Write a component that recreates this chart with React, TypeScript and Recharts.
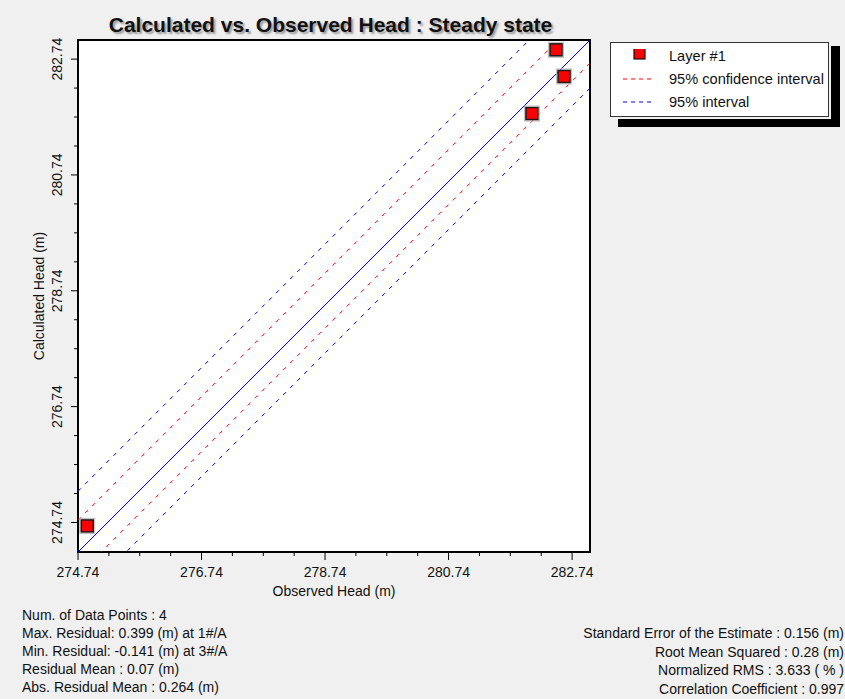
import { ComposedChart, Scatter, XAxis, YAxis, CartesianGrid, ReferenceArea } from "recharts";

document.body.style.margin = "0";

// axis ranges as drawn in the picture (x and y differ slightly)
const xDomain = [274.74, 283.03];
const yDomain = [274.23, 283.07];
const majorTicks = [274.74, 276.74, 278.74, 280.74, 282.74];
const minorTicks = [
  275.24, 275.74, 276.24, 277.24, 277.74, 278.24, 279.24, 279.74, 280.24, 281.24, 281.74, 282.24,
];

// Layer #1 points
const observedHead = [274.89, 282.48, 282.61, 282.09];
const calculatedHead = [274.68, 282.9, 282.44, 281.8];

// guide lines, given at the left and right edge of the plot
const lineEnds = [274.74, 283.03];
const perfectFit = [274.23, 283.07];
const confUpper = [274.78, 283.62];
const confLower = [273.83, 282.67];
const predUpper = [275.28, 284.12];
const predLower = [273.4, 282.24];

const statsLeft = [
  "Num. of Data Points : 4",
  "Max. Residual: 0.399 (m) at 1#/A",
  "Min. Residual: -0.141 (m) at 3#/A",
  "Residual Mean : 0.07 (m)",
  "Abs. Residual Mean : 0.264 (m)",
];
const statsRight = [
  "Standard Error of the Estimate : 0.156 (m)",
  "Root Mean Squared : 0.28 (m)",
  "Normalized RMS : 3.633 ( % )",
  "Correlation Coefficient : 0.997",
];

const FONT = "'Liberation Sans', Arial, sans-serif";

const points = observedHead.map((x, i) => ({ x, y: calculatedHead[i] }));
const toLine = (ys: number[]) => lineEnds.map((x, i) => ({ x, y: ys[i] }));

const guides = [
  { key: "predUp", ys: predUpper, color: "#0000ff", dash: "4 6" },
  { key: "predLo", ys: predLower, color: "#0000ff", dash: "4 6" },
  { key: "confUp", ys: confUpper, color: "#ff0000", dash: "4 6" },
  { key: "confLo", ys: confLower, color: "#ff0000", dash: "4 6" },
  { key: "fit", ys: perfectFit, color: "#0000ff", dash: undefined },
];

function XTick({ x, y, payload }: any) {
  const major = majorTicks.includes(payload.value);
  return (
    <g>
      <line x1={x} x2={x} y1={y} y2={y + (major ? 8 : 4)} stroke="#000" />
      {major && (
        <text x={x} y={y + 25} textAnchor="middle" fontSize={14} fill="#111" fontFamily={FONT}>
          {payload.value.toFixed(2)}
        </text>
      )}
    </g>
  );
}

function YTick({ x, y, payload }: any) {
  const major = majorTicks.includes(payload.value);
  const tx = x - 21;
  return (
    <g>
      <line x1={x - (major ? 7 : 4)} x2={x} y1={y} y2={y} stroke="#000" />
      {major && (
        <text
          x={tx}
          y={y}
          transform={`rotate(-90 ${tx} ${y})`}
          textAnchor="middle"
          dominantBaseline="central"
          fontSize={14}
          fill="#111"
          fontFamily={FONT}
        >
          {payload.value.toFixed(2)}
        </text>
      )}
    </g>
  );
}

function Square({ cx, cy }: any) {
  return (
    <g>
      <rect x={cx - 7.5} y={cy - 7.5} width={15} height={15} fill="none" stroke="#bbb" />
      <rect x={cx - 6} y={cy - 6} width={12} height={12} fill="#ff0000" stroke="#1a1a1a" strokeWidth={1.5} />
    </g>
  );
}

const NoDot = () => <g />;

function LegendRow({ label, children }: { label: string; children: any }) {
  return (
    <div style={{ display: "flex", alignItems: "center", height: 23 }}>
      <svg width={52} height={14} style={{ marginLeft: 6 }}>
        {children}
      </svg>
      <span>{label}</span>
    </div>
  );
}

export default function App() {
  return (
    <div style={{ position: "relative", width: 845, height: 699, background: "#f0f0f0", fontFamily: FONT, color: "#111", overflow: "hidden" }}>
      <div
        style={{
          position: "absolute",
          left: 0,
          width: 661,
          top: 13,
          textAlign: "center",
          fontSize: 21,
          fontWeight: "bold",
          textShadow: "2px 2px 2px #9a9a9a",
        }}
      >
        Calculated vs. Observed Head : Steady state
      </div>

      <ComposedChart width={845} height={699} margin={{ top: 40, right: 255, bottom: 97, left: 28 }}>
        <CartesianGrid fill="#fff" horizontal={false} vertical={false} />
        <XAxis
          type="number"
          dataKey="x"
          domain={xDomain}
          allowDataOverflow
          ticks={[...majorTicks, ...minorTicks]}
          interval={0}
          tick={<XTick />}
          tickSize={0}
          tickMargin={0}
          tickLine={false}
          axisLine={false}
          height={50}
          label={{ value: "Observed Head (m)", position: "insideBottom", offset: 6, fontSize: 14, fill: "#111", fontFamily: FONT }}
        />
        <YAxis
          type="number"
          dataKey="y"
          domain={yDomain}
          allowDataOverflow
          ticks={[...majorTicks, ...minorTicks]}
          interval={0}
          tick={<YTick />}
          tickSize={0}
          tickMargin={0}
          tickLine={false}
          axisLine={false}
          width={50}
          label={{
            value: "Calculated Head (m)",
            angle: -90,
            position: "insideLeft",
            offset: 11,
            fontSize: 14,
            fill: "#111",
            fontFamily: FONT,
            style: { textAnchor: "middle" },
          }}
        />
        {guides.map((g) => (
          <Scatter
            key={g.key}
            name={g.key}
            data={toLine(g.ys)}
            fill={g.color}
            line={{ stroke: g.color, strokeWidth: 1, strokeDasharray: g.dash }}
            lineType="joint"
            shape={<NoDot />}
            isAnimationActive={false}
          />
        ))}
        <Scatter name="Layer #1" data={points} fill="#ff0000" shape={<Square />} isAnimationActive={false} />
        <ReferenceArea x1={xDomain[0]} x2={xDomain[1]} y1={yDomain[0]} y2={yDomain[1]} fill="none" fillOpacity={0} stroke="#000" strokeWidth={2} strokeOpacity={1} />
      </ComposedChart>

      <div style={{ position: "absolute", left: 618, top: 46, width: 222, height: 81, background: "#000" }} />
      <div
        style={{
          position: "absolute",
          left: 610,
          top: 42,
          width: 217,
          height: 72,
          background: "#fff",
          border: "1px solid #333",
          outline: "2px solid #f0f0f0",
          fontSize: 14.6,
          paddingTop: 1,
          boxSizing: "content-box",
        }}
      >
        <LegendRow label="Layer #1">
          <rect x={17} y={-1} width={11} height={11} fill="#ff0000" stroke="#111" strokeWidth={1.2} />
        </LegendRow>
        <LegendRow label="95% confidence interval">
          <line x1={6} x2={36} y1={7} y2={7} stroke="#ff0000" strokeDasharray="4 4" />
        </LegendRow>
        <LegendRow label="95% interval">
          <line x1={6} x2={36} y1={7} y2={7} stroke="#0000ff" strokeDasharray="4 4" />
        </LegendRow>
      </div>

      <div style={{ position: "absolute", left: 22, top: 606, fontSize: 14, lineHeight: "18px", whiteSpace: "nowrap" }}>
        {statsLeft.map((s) => (
          <div key={s}>{s}</div>
        ))}
      </div>
      <div style={{ position: "absolute", right: 1, top: 624, fontSize: 14, lineHeight: "18.6px", textAlign: "right", whiteSpace: "nowrap" }}>
        {statsRight.map((s) => (
          <div key={s}>{s}</div>
        ))}
      </div>
    </div>
  );
}
